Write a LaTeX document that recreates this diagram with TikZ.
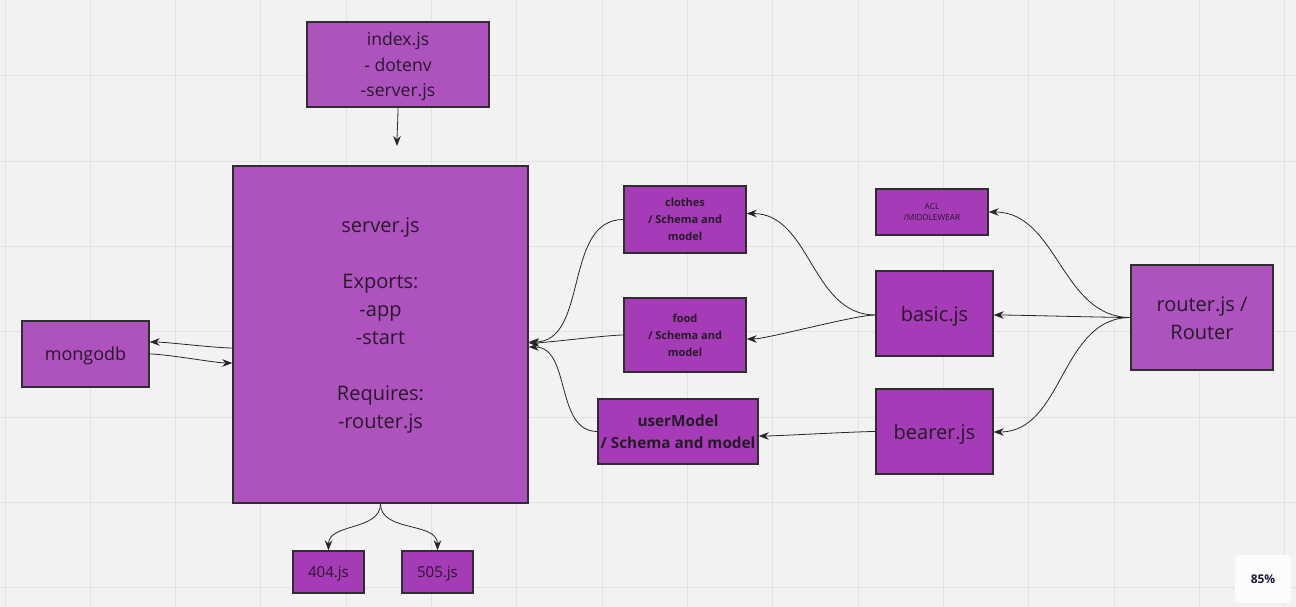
\documentclass[tikz,border=0pt]{standalone}
\usepackage{fontspec}
\setmainfont{Open Sans}
\usetikzlibrary{arrows.meta}
\definecolor{bgcol}{HTML}{F2F2F2}
\definecolor{gridcol}{HTML}{E2E2E2}
\definecolor{lightpurple}{HTML}{AE52BE}
\definecolor{deeppurple}{HTML}{A53BB6}
\definecolor{edgecol}{HTML}{2E2E2E}
\definecolor{inkcol}{HTML}{261A28}
\definecolor{zoomcol}{HTML}{1B1B3A}
\tikzset{
  box/.style={draw=edgecol, line width=1.4pt, fill=deeppurple, text=inkcol,
              inner sep=0pt, align=center},
  softbox/.style={box, fill=lightpurple},
  txt/.style={text=inkcol, align=center, inner sep=0pt},
  link/.style={draw=black!85, line width=0.8pt,
               -{Stealth[length=10pt,width=7.5pt]}},
}
\newcommand{\fs}[2]{\fontsize{#1}{#2}\selectfont}
% line box struts: full ascent on the first line, full descent on the last
\newcommand{\mtext}[1]{\rule{0pt}{1.069em}#1\rule[-0.293em]{0pt}{0pt}}
\begin{document}
\begin{tikzpicture}[x=1pt,y=1pt]
  % canvas and grid
  \fill[bgcol] (0,0) rectangle (1296,-607);
  \useasboundingbox (0,0) rectangle (1296,-607);
  \foreach \i in {0,...,15} {
    \draw[gridcol, line width=1pt] (5+85.33*\i,0) -- (5+85.33*\i,-607);
  }
  \foreach \j in {0,...,7} {
    \draw[gridcol, line width=1pt] (0,-76+85.33-85.33*\j) -- (1296,-76+85.33-85.33*\j);
  }

  % boxes
  \node[softbox, minimum width=182pt, minimum height=85pt, font=\fs{17.6}{25.5}]
    (index) at (398,-64.5) {\mtext{index.js\\- dotenv\\-server.js}};
  \node[softbox, minimum width=295pt, minimum height=337pt] (server) at (380.5,-334.5) {};
  \node[txt, font=\fs{20}{28}] (serverlbl) at (380.5,-322.5)
    {\mtext{server.js\\[28pt]Exports:\\-app\\-start\\[28pt]Requires:\\-router.js}};
  \node[softbox, minimum width=127pt, minimum height=66pt, font=\fs{18}{24}]
    (mongo) at (85.5,-354) {\mtext{mongodb}};
  \node[box, minimum width=71pt, minimum height=42pt, font=\fs{15}{18}]
    (e404) at (328.5,-572) {\mtext{404.js}};
  \node[box, minimum width=71pt, minimum height=42pt, font=\fs{15}{18}]
    (e505) at (437.5,-572) {\mtext{505.js}};
  \node[box, minimum width=122pt, minimum height=67pt, font=\fs{11}{17}\bfseries]
    (clothes) at (685,-219.5) {\mtext{clothes\\ / Schema and\\model}};
  \node[box, minimum width=122pt, minimum height=74pt, font=\fs{11}{17}\bfseries]
    (food) at (685,-335) {\mtext{food\\ / Schema and\\model}};
  \node[box, minimum width=160pt, minimum height=65pt, font=\fs{15.3}{22}\bfseries]
    (user) at (678,-431.5) {\mtext{userModel\\/ Schema and model}};
  \node[box, minimum width=112pt, minimum height=46pt, font=\fs{8.3}{11}]
    (acl) at (932,-212) {\mtext{ACL\\/MIDDLEWEAR}};
  \node[box, minimum width=117pt, minimum height=85pt, font=\fs{20}{28}]
    (basic) at (934.5,-313.5) {\mtext{basic.js}};
  \node[box, minimum width=117pt, minimum height=85pt, font=\fs{20}{28}]
    (bearer) at (934.5,-431.5) {\mtext{bearer.js}};
  \node[softbox, minimum width=142pt, minimum height=105pt, font=\fs{20}{28}]
    (router) at (1202,-317.5) {\mtext{router.js /\\Router}};

  % zoom indicator
  \node[fill=white!98!gray, rounded corners=4pt, minimum width=56pt,
        minimum height=48pt, text=zoomcol, inner sep=0pt, font=\fs{12}{14}\bfseries]
    (zoom) at (1263,-579) {\mtext{85\%}};

  % connectors
  \coordinate (serverTop) at (397,-146);
  \draw[link] (index.south) to[out=-90, in=90, looseness=0.6] (serverTop);

  \draw[link] ([yshift=-13.5pt]server.west) to[out=180, in=0, looseness=0.5]
    ([yshift=12pt]mongo.east);
  \draw[link] ([yshift=0pt]mongo.east) to[out=0, in=180, looseness=0.5]
    ([yshift=-28.5pt]server.west);

  \draw[link] (server.south) to[out=-90, in=90, looseness=1] (e404.north);
  \draw[link] (server.south) to[out=-90, in=90, looseness=1] (e505.north);

  \draw[link] (clothes.west) to[out=180, in=0] ([yshift=-7.5pt]server.east);
  \draw[link] (food.west) to[out=180, in=0, looseness=0.4] ([yshift=-8.5pt]server.east);
  \draw[link] (user.west) to[out=180, in=0] ([yshift=-12.5pt]server.east);

  \draw[link] ([yshift=-1.5pt]basic.west) to[out=180, in=0] ([yshift=6pt]clothes.east);
  \draw[link] ([yshift=-1.5pt]basic.west) to[out=180, in=0, looseness=0.4] ([yshift=-4pt]food.east);
  \draw[link] (bearer.west) to[out=180, in=0, looseness=0.4] ([yshift=-4.5pt]user.east);

  \draw[link] (router.west) to[out=180, in=0] (acl.east);
  \draw[link] (router.west) to[out=180, in=0, looseness=0.4] ([yshift=-1.5pt]basic.east);
  \draw[link] (router.west) to[out=180, in=0] ([yshift=-0.5pt]bearer.east);
\end{tikzpicture}
\end{document}
